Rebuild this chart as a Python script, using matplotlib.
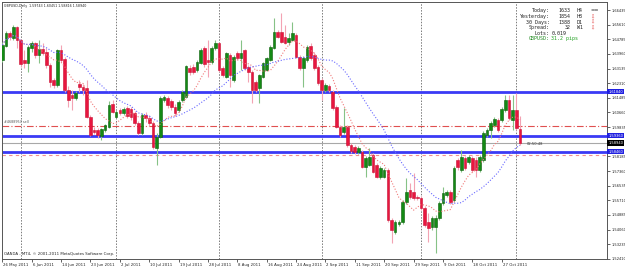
import matplotlib
matplotlib.use("Agg")
import matplotlib.pyplot as plt
import matplotlib.transforms as mtransforms
import numpy as np
import pandas as pd

# GBPUSD daily bars, 26 May 2011 .. 31 Oct 2011
opens = [1.6362, 1.6441, 1.6514, 1.6486, 1.6548, 1.6475, 1.6362, 1.6345, 1.6430, 1.6458,
         1.6390, 1.6424, 1.6407, 1.6334, 1.6250, 1.6221, 1.6419, 1.6368, 1.6193, 1.6165,
         1.6148, 1.6227, 1.6210, 1.6205, 1.6041, 1.5968, 1.5968, 1.5934, 1.5968, 1.5985,
         1.6114, 1.6041, 1.6081, 1.6064, 1.6092, 1.6086, 1.6064, 1.6008, 1.5951, 1.6053,
         1.6036, 1.6008, 1.5867, 1.5929, 1.6137, 1.6148, 1.6131, 1.6098, 1.6081, 1.6137,
         1.6154, 1.6317, 1.6323, 1.6306, 1.6345, 1.6430, 1.6362, 1.6351, 1.6430, 1.6458,
         1.6317, 1.6266, 1.6390, 1.6250, 1.6402, 1.6373, 1.6419, 1.6323, 1.6295, 1.6238,
         1.6205, 1.6266, 1.6306, 1.6362, 1.6430, 1.6520, 1.6520, 1.6492, 1.6464, 1.6475,
         1.6503, 1.6379, 1.6317, 1.6362, 1.6441, 1.6390, 1.6323, 1.6250, 1.6193, 1.6216,
         1.6182, 1.6098, 1.5985, 1.5957, 1.5985, 1.5884, 1.5871, 1.5844, 1.5844, 1.5760,
         1.5771, 1.5827, 1.5771, 1.5703, 1.5703, 1.5743, 1.5461, 1.5394, 1.5439, 1.5450,
         1.5563, 1.5630, 1.5619, 1.5591, 1.5585, 1.5529, 1.5450, 1.5422, 1.5422, 1.5473,
         1.5557, 1.5602, 1.5619, 1.5574, 1.5799, 1.5743, 1.5810, 1.5788, 1.5810, 1.5799,
         1.5743, 1.5799, 1.5940, 1.5968, 1.5996, 1.6024, 1.6024, 1.6081, 1.6137, 1.6024,
         1.6081, 1.5974]
highs = [1.6464, 1.6525, 1.6525, 1.6559, 1.6554, 1.6480, 1.6419, 1.6447, 1.6469, 1.6464,
         1.6475, 1.6458, 1.6430, 1.6345, 1.6261, 1.6424, 1.6447, 1.6379, 1.6216, 1.6193,
         1.6188, 1.6250, 1.6227, 1.6250, 1.6053, 1.5985, 1.5979, 1.5979, 1.6002, 1.6131,
         1.6137, 1.6081, 1.6092, 1.6098, 1.6103, 1.6098, 1.6075, 1.6019, 1.6064, 1.6069,
         1.6053, 1.6019, 1.5951, 1.6160, 1.6165, 1.6160, 1.6143, 1.6114, 1.6137, 1.6193,
         1.6334, 1.6334, 1.6340, 1.6362, 1.6430, 1.6441, 1.6475, 1.6441, 1.6475, 1.6464,
         1.6328, 1.6407, 1.6402, 1.6390, 1.6413, 1.6475, 1.6424, 1.6334, 1.6306, 1.6250,
         1.6283, 1.6351, 1.6379, 1.6447, 1.6599, 1.6531, 1.6627, 1.6559, 1.6514, 1.6576,
         1.6514, 1.6390, 1.6385, 1.6447, 1.6458, 1.6407, 1.6334, 1.6261, 1.6233, 1.6227,
         1.6193, 1.6109, 1.5996, 1.6092, 1.5996, 1.5895, 1.5884, 1.5878, 1.5856, 1.5822,
         1.5867, 1.5839, 1.5782, 1.5765, 1.5754, 1.5754, 1.5473, 1.5461, 1.5461, 1.5574,
         1.5698, 1.5670, 1.5726, 1.5602, 1.5597, 1.5540, 1.5501, 1.5484, 1.5490, 1.5568,
         1.5647, 1.5630, 1.5630, 1.5765, 1.5810, 1.5856, 1.5822, 1.5827, 1.5822, 1.5816,
         1.5827, 1.5962, 1.5979, 1.6019, 1.6041, 1.6036, 1.6098, 1.6165, 1.6165, 1.6165,
         1.6176, 1.6045]
lows = [1.6351, 1.6435, 1.6475, 1.6475, 1.6430, 1.6323, 1.6317, 1.6295, 1.6407, 1.6373,
        1.6345, 1.6390, 1.6317, 1.6210, 1.6205, 1.6210, 1.6351, 1.6182, 1.6098, 1.6081,
        1.6137, 1.6182, 1.6165, 1.6036, 1.5934, 1.5946, 1.5923, 1.5912, 1.5957, 1.5979,
        1.6064, 1.6036, 1.6053, 1.6053, 1.6036, 1.6024, 1.5996, 1.5940, 1.5940, 1.6013,
        1.5991, 1.5861, 1.5771, 1.5923, 1.6126, 1.6092, 1.6081, 1.6047, 1.6069, 1.6126,
        1.6148, 1.6278, 1.6283, 1.6295, 1.6340, 1.6323, 1.6266, 1.6340, 1.6419, 1.6295,
        1.6266, 1.6261, 1.6210, 1.6238, 1.6362, 1.6306, 1.6306, 1.6238, 1.6120, 1.6182,
        1.6120, 1.6261, 1.6300, 1.6357, 1.6424, 1.6486, 1.6458, 1.6452, 1.6447, 1.6469,
        1.6373, 1.6306, 1.6210, 1.6351, 1.6362, 1.6306, 1.6221, 1.6137, 1.6182, 1.6182,
        1.6081, 1.5979, 1.5929, 1.5946, 1.5871, 1.5839, 1.5833, 1.5833, 1.5754, 1.5703,
        1.5765, 1.5726, 1.5698, 1.5692, 1.5698, 1.5450, 1.5332, 1.5383, 1.5428, 1.5439,
        1.5551, 1.5580, 1.5574, 1.5574, 1.5518, 1.5422, 1.5338, 1.5405, 1.5276, 1.5461,
        1.5546, 1.5591, 1.5551, 1.5563, 1.5743, 1.5732, 1.5743, 1.5777, 1.5732, 1.5703,
        1.5732, 1.5788, 1.5929, 1.5923, 1.5985, 1.5957, 1.6013, 1.6069, 1.6024, 1.5968,
        1.5968, 1.5882]
closes = [1.6447, 1.6514, 1.6492, 1.6548, 1.6475, 1.6340, 1.6345, 1.6435, 1.6458, 1.6390,
          1.6424, 1.6402, 1.6334, 1.6238, 1.6221, 1.6419, 1.6362, 1.6193, 1.6137, 1.6148,
          1.6176, 1.6210, 1.6193, 1.6041, 1.5940, 1.5957, 1.5940, 1.5974, 1.5996, 1.6109,
          1.6069, 1.6069, 1.6064, 1.6086, 1.6047, 1.6041, 1.6008, 1.5951, 1.6053, 1.6036,
          1.6008, 1.5871, 1.5929, 1.6148, 1.6154, 1.6109, 1.6098, 1.6064, 1.6126, 1.6182,
          1.6328, 1.6295, 1.6295, 1.6351, 1.6419, 1.6340, 1.6351, 1.6430, 1.6458, 1.6306,
          1.6278, 1.6402, 1.6278, 1.6379, 1.6373, 1.6402, 1.6317, 1.6295, 1.6193, 1.6193,
          1.6278, 1.6345, 1.6373, 1.6435, 1.6520, 1.6492, 1.6464, 1.6458, 1.6486, 1.6514,
          1.6379, 1.6317, 1.6373, 1.6435, 1.6373, 1.6317, 1.6233, 1.6193, 1.6221, 1.6193,
          1.6092, 1.5985, 1.5940, 1.5985, 1.5884, 1.5850, 1.5844, 1.5867, 1.5760, 1.5810,
          1.5816, 1.5732, 1.5703, 1.5754, 1.5743, 1.5461, 1.5405, 1.5450, 1.5450, 1.5563,
          1.5619, 1.5591, 1.5585, 1.5585, 1.5529, 1.5433, 1.5416, 1.5473, 1.5473, 1.5557,
          1.5613, 1.5619, 1.5563, 1.5754, 1.5760, 1.5816, 1.5754, 1.5816, 1.5743, 1.5743,
          1.5816, 1.5951, 1.5968, 1.6008, 1.6030, 1.5968, 1.6086, 1.6137, 1.6036, 1.6081,
          1.5979, 1.5894]

date_labels = ["26 May 2011", "6 Jun 2011", "14 Jun 2011", "23 Jun 2011", "2 Jul 2011",
               "10 Jul 2011", "19 Jul 2011", "28 Jul 2011", "8 Aug 2011", "16 Aug 2011",
               "24 Aug 2011", "2 Sep 2011", "11 Sep 2011", "20 Sep 2011", "29 Sep 2011",
               "9 Oct 2011", "18 Oct 2011", "27 Oct 2011"]
label_step = 8
month_starts = [5, 31, 59, 87, 114, 140]

blue_levels = [1.61840, 1.59360, 1.58460]
sell_level = 1.59900
stop_level = 1.58240
bid = 1.58940
price_ticks = [1.52410 + 0.00825 * k for k in range(18)]

info_lines = [("Today:", "1633", "H4", "=="),
              ("Yesterday:", "1854", "H8", "\u21e9"),
              ("30 Days:", "1388", "D1", "\u21e9"),
              ("Spread:", "32", "W1", "\u21e9")]

# %%
df = pd.DataFrame({"open": opens, "high": highs, "low": lows, "close": closes})
idx = np.arange(len(df))
up = df.close >= df.open
ma_fast = df.close.rolling(8, min_periods=1).mean()
ma_slow = df.close.rolling(21, min_periods=1).mean()

fig = plt.figure(figsize=(6.25, 2.68), dpi=100)
ax = fig.add_axes([2 / 625, 9 / 268, 605 / 625, 257 / 268])
ax.set_xlim(-0.1, 164.7)
ax.set_ylim(1.5240, 1.6689)

for x in month_starts:
    ax.axvline(x, color="#7a7a7a", lw=0.7, ls=(0, (1.5, 1.5)), zorder=1)

ax.axhline(sell_level, color="#e05050", lw=0.8, ls=(0, (6, 2, 1, 2)), zorder=2)
ax.axhline(stop_level, color="#f09090", lw=0.8, ls=(0, (3, 3)), zorder=2)
ax.axhline(bid, color="#a8a8a8", lw=0.8, zorder=2)
for lv in blue_levels:
    ax.axhline(lv, color="#3a3af5", lw=2.0, zorder=2)

# wicks and bodies
ax.vlines(idx[up], df.low[up], df.high[up], color="#86c286", lw=0.8, zorder=3)
ax.vlines(idx[~up], df.low[~up], df.high[~up], color="#f3a3b3", lw=0.8, zorder=3)
body_lo = np.minimum(df.open, df.close)
body_h = np.maximum((df.close - df.open).abs(), 0.0003)
ax.bar(idx[up], body_h[up], bottom=body_lo[up], width=0.72,
       color="#148a14", edgecolor="#0b5e0b", lw=0.4, zorder=4)
ax.bar(idx[~up], body_h[~up], bottom=body_lo[~up], width=0.72,
       color="#e8163f", edgecolor="#c80f32", lw=0.4, zorder=4)

ax.plot(idx, ma_fast, color="#f07a7a", lw=0.8, ls=(0, (1, 1.6)), zorder=5)
ax.plot(idx, ma_slow, color="#6868ff", lw=0.8, ls=(0, (1, 1.6)), zorder=5)

# axes look
for s in ax.spines.values():
    s.set_color("#555555")
    s.set_linewidth(0.7)
ax.yaxis.tick_right()
ax.set_yticks(price_ticks)
boxed = blue_levels + [bid]
ax.set_yticklabels(["" if min(abs(t - b) for b in boxed) < 0.0025 else "%.5f" % t
                    for t in price_ticks])
ax.set_xticks(idx[::label_step])
ax.set_xticklabels(date_labels[:len(idx[::label_step])], ha="left")
ax.tick_params(axis="y", labelsize=2.6, length=2, width=0.5, pad=1, colors="#222222")
ax.tick_params(axis="x", labelsize=2.8, length=2, width=0.5, pad=1, colors="#222222")
for lab in ax.get_xticklabels():
    lab.set_transform(lab.get_transform() + mtransforms.ScaledTranslation(1 / 100, 0, fig.dpi_scale_trans))

# price boxes on the right axis
yb = ax.get_yaxis_transform()
for lv in blue_levels:
    ax.text(1.002, lv, "%.5f" % lv, transform=yb, fontsize=2.6, color="white",
            va="center", ha="left", zorder=10, clip_on=False,
            bbox=dict(boxstyle="square,pad=0.25", fc="#2020e0", ec="none"))
ax.text(1.002, bid, "%.5f" % bid, transform=yb, fontsize=2.6, color="white",
        va="center", ha="left", zorder=10, clip_on=False,
        bbox=dict(boxstyle="square,pad=0.25", fc="black", ec="none"))

# texts
ax.text(0.004, 0.992, "GBPUSD,Daily  1.59743 1.60451 1.58816 1.58940", transform=ax.transAxes,
        fontsize=2.3, va="top", ha="left", color="#222222")
ax.text(0.004, 0.012, "OANDA - MT4, \u00a9 2001-2011 MetaQuotes Software Corp.",
        transform=ax.transAxes, fontsize=2.8, va="bottom", ha="left", color="#222222")
ax.text(0.004, sell_level + 0.0009, "#4688957 sell", transform=yb, fontsize=2.4,
        va="bottom", ha="left", color="#555555")
ax.text(len(idx) + 0.8, bid - 0.0008, "02:50:48", fontsize=2.6, va="center", ha="left",
        color="#333333")

mono = "DejaVu Sans Mono"
y0 = 0.965
dy = 0.0215
for k, (name, val, tf, sym) in enumerate(info_lines):
    yy = y0 - k * dy
    ax.text(0.905, yy, name, transform=ax.transAxes, family=mono, fontsize=3.6,
            ha="right", va="center", color="#222222")
    ax.text(0.940, yy, val, transform=ax.transAxes, family=mono, fontsize=3.6,
            ha="right", va="center", color="#222222")
    ax.text(0.950, yy, tf, transform=ax.transAxes, family=mono, fontsize=3.6,
            ha="left", va="center", color="#222222")
    ax.text(0.972, yy, sym, transform=ax.transAxes, family="DejaVu Sans", fontsize=3.6,
            ha="left", va="center", color="#222222" if sym == "==" else "#e03030")
ax.text(0.905, y0 - 4 * dy, "Lots:", transform=ax.transAxes, family=mono, fontsize=3.6,
        ha="right", va="center", color="#222222")
ax.text(0.908, y0 - 4 * dy, "0.019", transform=ax.transAxes, family=mono, fontsize=3.6,
        ha="left", va="center", color="#222222")
ax.text(0.905, y0 - 5 * dy, "GBPUSD:", transform=ax.transAxes, family=mono, fontsize=3.6,
        ha="right", va="center", color="#208a20")
ax.text(0.908, y0 - 5 * dy, "31.2 pips", transform=ax.transAxes, family=mono, fontsize=3.6,
        ha="left", va="center", color="#20a020")

fig.savefig("out.png", dpi=100, facecolor="white")
